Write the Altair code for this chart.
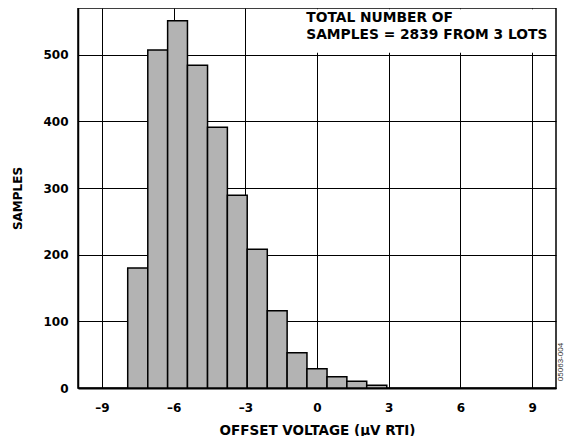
import altair as alt
import pandas as pd

# Histogram bin edges (µV RTI) and counts
bin_starts = [-7.92, -7.08, -6.25, -5.42, -4.58, -3.75, -2.92, -2.08, -1.25, -0.42, 0.42, 1.25, 2.08]
bin_ends = [-7.08, -6.25, -5.42, -4.58, -3.75, -2.92, -2.08, -1.25, -0.42, 0.42, 1.25, 2.08, 2.92]
counts = [180, 507, 551, 484, 391, 289, 208, 116, 53, 29, 17, 10, 4]

x_ticks = [-9, -6, -3, 0, 3, 6, 9]
y_ticks = [0, 100, 200, 300, 400, 500]
note_lines = ["TOTAL NUMBER OF", "SAMPLES = 2839 FROM 3 LOTS"]
note_y = [555, 529]

FONT = "DejaVu Sans"

bars_df = pd.DataFrame({"x0": bin_starts, "x1": bin_ends, "y0": [0] * len(counts), "y1": counts})
box_df = pd.DataFrame({"x0": [-0.6], "x1": [9.94], "y0": [503], "y1": [568]})
note_df = pd.DataFrame({"x0": [-0.45, -0.45], "y0": note_y, "txt": note_lines})

xscale = alt.Scale(domain=[-10, 10], nice=False, zero=False)
yscale = alt.Scale(domain=[0, 570], nice=False)

xaxis = alt.Axis(
    values=x_ticks, grid=True, gridColor="black", gridWidth=1, gridOpacity=1,
    ticks=False, domainColor="black", domainWidth=2,
    labelFont=FONT, labelFontWeight="bold", labelFontSize=12, labelColor="black",
    labelPadding=14,
    labelExpr="datum.value < 0 ? '\u2013' + abs(datum.value) : datum.label",
    title="OFFSET VOLTAGE (\u00b5V RTI)", titleFont=FONT, titleFontWeight="bold",
    titleFontSize=13.5, titleColor="black", titlePadding=10)
yaxis = alt.Axis(
    values=y_ticks, grid=True, gridColor="black", gridWidth=1, gridOpacity=1,
    ticks=False, domainColor="black", domainWidth=1.5,
    labelFont=FONT, labelFontWeight="bold", labelFontSize=12, labelColor="black",
    labelPadding=10,
    title="SAMPLES", titleFont=FONT, titleFontWeight="bold",
    titleFontSize=12, titleColor="black", titlePadding=18)

bars = alt.Chart(bars_df).mark_bar(
    color="#b3b3b3", stroke="black", strokeWidth=1.5
).encode(
    x=alt.X("x0:Q", scale=xscale, axis=xaxis),
    x2="x1:Q",
    y=alt.Y("y0:Q", scale=yscale, axis=yaxis),
    y2="y1:Q",
)

box = alt.Chart(box_df).mark_rect(color="white").encode(
    x=alt.X("x0:Q", scale=xscale, axis=xaxis), x2="x1:Q",
    y=alt.Y("y0:Q", scale=yscale, axis=yaxis), y2="y1:Q",
)

note = alt.Chart(note_df).mark_text(
    align="left", baseline="middle", font=FONT, fontWeight="bold", fontSize=13.8, color="black"
).encode(
    x=alt.X("x0:Q", scale=xscale, axis=xaxis),
    y=alt.Y("y0:Q", scale=yscale, axis=yaxis),
    text="txt:N",
)

code = alt.Chart(pd.DataFrame({"t": ["05063-004"]})).mark_text(
    angle=270, font="Liberation Sans", fontSize=8, color="#333333", baseline="middle", align="center"
).encode(x=alt.value(483), y=alt.value(354), text="t:N")

chart = alt.layer(bars, box, note, code).properties(
    width=478, height=380,
    autosize=alt.AutoSizeParams(type="none"),
    padding={"left": 70, "top": 0, "right": 10, "bottom": 48},
).configure_view(stroke="black", strokeWidth=1.5)

chart.save("out.html", embed_options={"renderer": "svg", "actions": False})
